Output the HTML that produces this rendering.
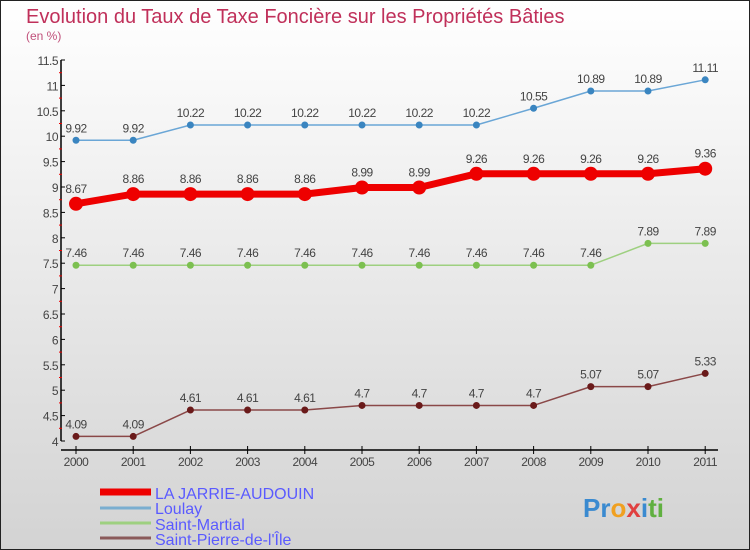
<!DOCTYPE html>
<html><head><meta charset="utf-8"><style>
body{margin:0}
#wrap{width:750px;height:550px;position:relative;box-sizing:border-box;border:1px solid #222;background:linear-gradient(#fff,#d3d3d3);font-family:"Liberation Sans",sans-serif;overflow:hidden}
</style></head><body>
<div id="wrap">
<svg id="chart" width="750" height="550" style="position:absolute;left:-1px;top:-1px">
<text x="26" y="23" font-size="20" fill="#c0305a">Evolution du Taux de Taxe Foncière sur les Propriétés Bâties</text>
<text x="26" y="40" font-size="12" fill="#c0507a">(en %)</text>
<g id="axes"></g><g id="series"></g>
<g>
<line x1="100" y1="492" x2="151" y2="492" stroke="#e00" stroke-width="7"/>
<text x="155" y="499" font-size="16" fill="#5a5aff">LA JARRIE-AUDOUIN</text>
<line x1="100" y1="508" x2="151" y2="508" stroke="#7aaed0" stroke-width="3"/>
<text x="155" y="514" font-size="16" fill="#5a5aff">Loulay</text>
<line x1="100" y1="523" x2="151" y2="523" stroke="#9ed080" stroke-width="3"/>
<text x="155" y="530" font-size="16" fill="#5a5aff">Saint-Martial</text>
<line x1="100" y1="538" x2="151" y2="538" stroke="#8a5a5a" stroke-width="3"/>
<text x="155" y="545" font-size="16" fill="#5a5aff">Saint-Pierre-de-l'Île</text>
</g>
<text x="583" y="517" font-size="26" font-weight="bold"><tspan fill="#3a8ad0">Pr</tspan><tspan fill="#f0a020">o</tspan><tspan fill="#e04040">x</tspan><tspan fill="#3a8ad0">i</tspan><tspan fill="#60b040">ti</tspan></text>
</svg>
</div>
<script>
const years=[2000,2001,2002,2003,2004,2005,2006,2007,2008,2009,2010,2011];
const jarrie=[8.67,8.86,8.86,8.86,8.86,8.99,8.99,9.26,9.26,9.26,9.26,9.36];
const loulay=[9.92,9.92,10.22,10.22,10.22,10.22,10.22,10.22,10.55,10.89,10.89,11.11];
const martial=[7.46,7.46,7.46,7.46,7.46,7.46,7.46,7.46,7.46,7.46,7.89,7.89];
const pierre=[4.09,4.09,4.61,4.61,4.61,4.7,4.7,4.7,4.7,5.07,5.07,5.33];
const yTicks=[4,4.5,5,5.5,6,6.5,7,7.5,8,8.5,9,9.5,10,10.5,11,11.5];
const NS="http://www.w3.org/2000/svg";
const X=i=>76+i*57.2;
const Y=v=>441-(v-4)*50.8;
function mk(t,a,p){const e=document.createElementNS(NS,t);for(const k in a)e.setAttribute(k,a[k]);p.appendChild(e);return e;}
const ax=document.getElementById('axes');
let yl=mk('line',{x1:61,y1:Y(11.5),x2:61,y2:Y(4),stroke:'#000','stroke-width':1.5},ax);


let xl=mk('line',{x1:61,y1:450,x2:718,y2:450,stroke:'#000','stroke-width':1.5},ax);


yTicks.forEach((v,i)=>{
 mk('line',{x1:61,y1:Y(v),x2:65,y2:Y(v),stroke:'#000'},ax);
 if(i<yTicks.length-1)mk('line',{x1:59,y1:Y(v+0.25),x2:62,y2:Y(v+0.25),stroke:'#e00'},ax);
 const t=mk('text',{x:58,y:Y(v)+5,'font-size':12,fill:'#444','text-anchor':'end','letter-spacing':'-0.5'},ax);
 t.textContent=String(v);
 
 
});
years.forEach((y,i)=>{
 mk('line',{x1:X(i),y1:446,x2:X(i),y2:454,stroke:'#000'},ax);
 const t=mk('text',{x:X(i),y:466,'font-size':12,fill:'#444','text-anchor':'middle','letter-spacing':'-0.5'},ax);
 t.textContent=String(y);
 
 
});
const sg=document.getElementById('series');
function series(vals,color,dot,w,r,name,off){
 const g=mk('g',{},sg);
 
 
 const p=mk('polyline',{points:vals.map((v,i)=>X(i)+','+Y(v)).join(' '),fill:'none',stroke:color,'stroke-width':w,'stroke-linejoin':'round'},g);
 
 
 vals.forEach((v,i)=>{
  const c=mk('circle',{cx:X(i),cy:Y(v),r:r,fill:dot},g);
  
  
  const t=mk('text',{x:X(i),y:Y(v)-off,'font-size':12,fill:'#444','text-anchor':'middle','letter-spacing':'-0.5'},g);
  t.textContent=String(v);
  
  
 });
}
series(loulay,'#6aa6d6','#3a85c0',1.5,3.5,'loulay-series',8);
series(martial,'#9ed080','#7cc050',1.5,3.5,'saint-martial-series',8);
series(pierre,'#8a4848','#6a1a1a',1.5,3.5,'saint-pierre-series',8);
series(jarrie,'#e00','#e00',7,7,'la-jarrie-series',11);
</script>
</body></html>
